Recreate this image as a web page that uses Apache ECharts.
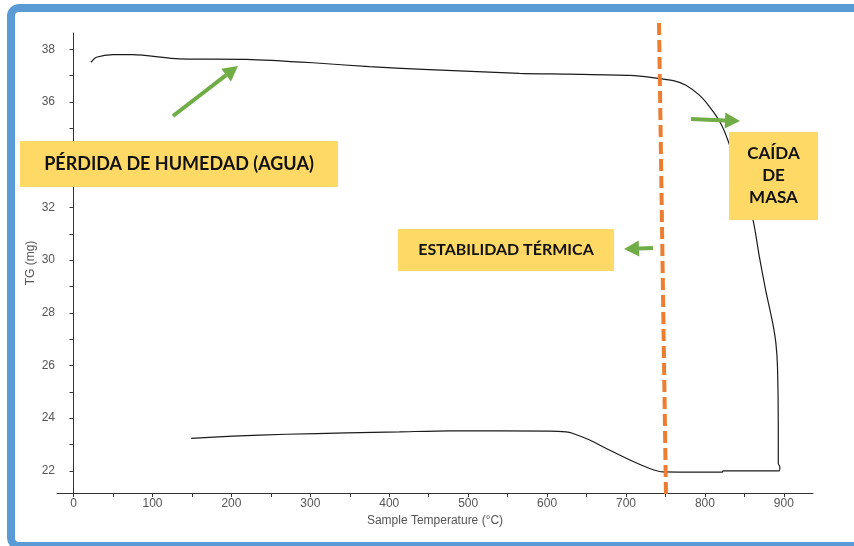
<!DOCTYPE html>
<html>
<head>
<meta charset="utf-8">
<script src="https://cdn.jsdelivr.net/npm/echarts@6/dist/echarts.min.js"></script>
<style>
html,body{margin:0;padding:0;background:#fff;}
#chart{width:854px;height:546px;}
</style>
</head>
<body>
<div id="chart"></div>
<script>
// Sample temperature (°C) along the recorded TG trace (heating, then return path)
const tempC = [22, 29, 50, 75, 134, 219, 303, 375, 443, 565, 629, 705, 738, 760, 776, 793, 806, 819, 829, 844, 861, 869, 877, 886, 890, 892, 893, 893, 895, 894, 823, 822, 747, 730, 705, 679, 654, 633, 624, 603, 477, 413, 346, 270, 202, 149];
// TG mass (mg)
const massMg = [37.51, 37.70, 37.80, 37.80, 37.64, 37.62, 37.49, 37.34, 37.24, 37.09, 37.06, 37.01, 36.91, 36.81, 36.64, 36.26, 35.82, 35.25, 34.56, 33.2, 31.52, 30.13, 28.86, 27.60, 26.84, 25.95, 23.80, 22.28, 22.15, 22.0, 22.0, 21.95, 21.96, 22.09, 22.41, 22.79, 23.17, 23.42, 23.48, 23.51, 23.52, 23.48, 23.44, 23.39, 23.32, 23.23];
// Axis tick labels
const xTickLabels = [0, 100, 200, 300, 400, 500, 600, 700, 800, 900];
const xMinorTicks = [50, 150, 250, 350, 450, 550, 650, 750, 850];
const yTickLabels = [22, 24, 26, 28, 30, 32, 34, 36, 38];
const yMinorTicks = [23, 25, 27, 29, 31, 33, 35, 37];
// Annotation texts
const noteHumedad = 'PÉRDIDA DE HUMEDAD (AGUA)';
const noteCaida = 'CAÍDA\nDE\nMASA';
const noteEstabilidad = 'ESTABILIDAD TÉRMICA';

const chart = echarts.init(document.getElementById('chart'), null, {renderer: 'canvas'});

const traceData = tempC.map((t, i) => [t, massMg[i]]);
const labelFont = {fontFamily: 'Liberation Sans', fontSize: 12, color: '#555'};
const GREEN = '#70AD47', YELLOW = '#FFD966', ORANGE = '#ED7D31', BLUE = '#5B9BD5';

function arrow(x1, y1, x2, y2) {
  const ang = Math.atan2(y2 - y1, x2 - x1);
  const hl = 15, hw = 8;
  const bx = x2 - hl * Math.cos(ang), by = y2 - hl * Math.sin(ang);
  const px = -Math.sin(ang) * hw, py = Math.cos(ang) * hw;
  return [
    {type: 'line', z: 100, shape: {x1: x1, y1: y1, x2: bx, y2: by}, style: {stroke: GREEN, lineWidth: 4}},
    {type: 'polygon', z: 100, shape: {points: [[x2, y2], [bx + px, by + py], [bx - px, by - py]]}, style: {fill: GREEN}}
  ];
}

function box(x, y, w, h, text, fs, lh) {
  return [
    {type: 'rect', z: 90, shape: {x: x, y: y, width: w, height: h}, style: {fill: YELLOW}},
    {type: 'text', z: 91, x: x + w / 2, y: y + h / 2,
     style: {text: text, fill: '#111', font: 'bold ' + fs + 'px Lato', align: 'center', verticalAlign: 'middle', lineHeight: lh}}
  ];
}

const option = {
  backgroundColor: '#ffffff',
  animation: false,
  grid: {left: 57, right: 41, top: 33, bottom: 53, containLabel: false},
  xAxis: {
    type: 'value', min: -21, max: 937,
    name: 'Sample Temperature (°C)', nameLocation: 'middle', nameGap: 21,
    nameTextStyle: labelFont,
    axisLine: {show: true, lineStyle: {color: '#333', width: 1}},
    axisTick: {show: true, length: 4, lineStyle: {color: '#333'}, customValues: xTickLabels.concat(xMinorTicks)},
    axisLabel: Object.assign({margin: 5, customValues: xTickLabels}, labelFont),
    splitLine: {show: false}
  },
  yAxis: {
    type: 'value', min: 21.16, max: 38.62,
    name: 'TG (mg)', nameLocation: 'middle', nameGap: 20, nameRotate: 90,
    nameMoveOverlap: false,
    nameTextStyle: labelFont,
    axisLine: {show: true, lineStyle: {color: '#333', width: 1}},
    axisTick: {show: true, length: 4, lineStyle: {color: '#333'}, customValues: yTickLabels.concat(yMinorTicks)},
    axisLabel: Object.assign({margin: 2, customValues: yTickLabels}, labelFont),
    splitLine: {show: false}
  },
  series: [{
    type: 'line', data: traceData, showSymbol: false, smooth: 0.25,
    lineStyle: {color: '#1b1b1b', width: 1.2}
  }],
  graphic: [
    {type: 'rect', z: 120, shape: {x: 11, y: 8, width: 920, height: 538, r: 8},
     style: {fill: null, stroke: BLUE, lineWidth: 8}},
    {type: 'line', z: 100, shape: {x1: 659, y1: 23, x2: 666, y2: 496},
     style: {stroke: ORANGE, lineWidth: 4, lineDash: [12, 5]}}
  ]
  .concat(box(20, 141, 318, 46, noteHumedad, 18, 20))
  .concat(box(729, 132, 89, 88, noteCaida, 17, 22))
  .concat(box(398, 229, 216, 42, noteEstabilidad, 16, 20))
  .concat(arrow(173, 116, 238, 66))
  .concat(arrow(691, 119, 740, 121))
  .concat(arrow(653, 248, 624, 249))
};

chart.setOption(option);
</script>
</body>
</html>
